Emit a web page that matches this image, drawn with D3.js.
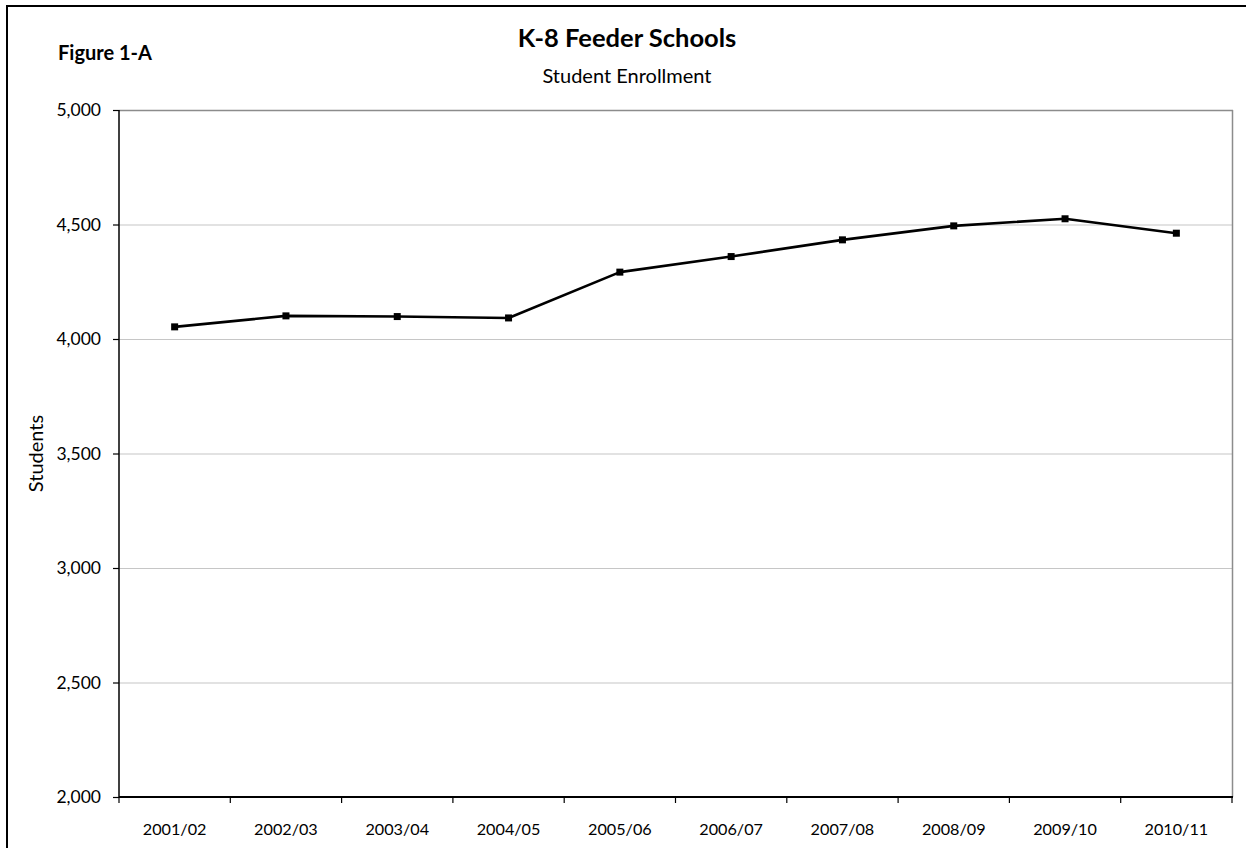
<!DOCTYPE html>
<html>
<head>
<meta charset="utf-8">
<script src="https://cdn.jsdelivr.net/npm/d3@7/dist/d3.min.js"></script>
<style>
  html, body { margin: 0; padding: 0; background: #fff; }
  svg { display: block; }
  text { font-family: Lato, "Open Sans", "Liberation Sans", sans-serif; fill: #000; }
</style>
</head>
<body>
<svg id="chart" width="1246" height="848"></svg>
<script>
// School years on the horizontal axis
const years = ["2001/02", "2002/03", "2003/04", "2004/05", "2005/06",
               "2006/07", "2007/08", "2008/09", "2009/10", "2010/11"];
// Total K-8 feeder school enrollment per year
const enrollment = [4053, 4101, 4098, 4092, 4292, 4360, 4433, 4494, 4525, 4462];
// Value axis ticks
const yTicks = [2000, 2500, 3000, 3500, 4000, 4500, 5000];

const svg = d3.select("#chart");
const plot = { left: 119, right: 1232, top: 110, bottom: 797 };
const FONT = "Lato, 'Open Sans', 'Liberation Sans', sans-serif";

// Outer chart frame
svg.append("rect")
  .attr("x", 7).attr("y", 6)
  .attr("width", 1260).attr("height", 860)
  .attr("fill", "#fff").attr("stroke", "#000").attr("stroke-width", 2);

const x = d3.scaleBand().domain(years).range([plot.left, plot.right]).padding(0);
const y = d3.scaleLinear().domain([2000, 5000]).range([plot.bottom, plot.top]);

// Horizontal gridlines
svg.append("g")
  .selectAll("line")
  .data(yTicks.filter(t => t > 2000))
  .join("line")
  .attr("x1", plot.left).attr("x2", plot.right)
  .attr("y1", d => y(d) + 0.5).attr("y2", d => y(d) + 0.5)
  .attr("stroke", "#c6c6c6").attr("stroke-width", 1.2);

// Plot area border (top and right)
svg.append("line")
  .attr("x1", plot.right + 0.5).attr("x2", plot.right + 0.5)
  .attr("y1", plot.top).attr("y2", plot.bottom)
  .attr("stroke", "#8c8c8c").attr("stroke-width", 1.5);
svg.append("line")
  .attr("x1", plot.left).attr("x2", plot.right + 1)
  .attr("y1", plot.top + 0.5).attr("y2", plot.top + 0.5)
  .attr("stroke", "#8c8c8c").attr("stroke-width", 1.5);

// Y axis
const yAxis = svg.append("g")
  .attr("transform", `translate(${plot.left},0)`)
  .call(d3.axisLeft(y).tickValues(yTicks).tickSize(6).tickPadding(12)
    .tickFormat(d3.format(",")));
yAxis.select(".domain").attr("stroke", "#000").attr("stroke-width", 1.5)
  .attr("d", `M0,${plot.top}V${plot.bottom}`);
yAxis.selectAll(".tick line").attr("stroke", "#000").attr("stroke-width", 1.2);
yAxis.selectAll("text")
  .style("font-family", FONT)
  .style("font-size", "17.5px")
  .attr("fill", "#000");

// X axis with ticks at category boundaries
const xAxis = svg.append("g")
  .attr("transform", `translate(0,${plot.bottom})`);
xAxis.append("line")
  .attr("x1", plot.left).attr("x2", plot.right + 1)
  .attr("y1", 0).attr("y2", 0)
  .attr("stroke", "#000").attr("stroke-width", 1.8);
const boundaries = years.map(d => x(d)).concat([x(years[years.length - 1]) + x.bandwidth()]);
xAxis.selectAll("line.tk")
  .data(boundaries)
  .join("line").attr("class", "tk")
  .attr("x1", d => d).attr("x2", d => d)
  .attr("y1", 0).attr("y2", 6)
  .attr("stroke", "#000").attr("stroke-width", 1.2);
xAxis.selectAll("text")
  .data(years)
  .join("text")
  .attr("x", d => x(d) + x.bandwidth() / 2)
  .attr("y", 38)
  .attr("text-anchor", "middle")
  .style("font-size", "16.2px")
  .text(d => d);

// Enrollment line
const line = d3.line()
  .x((d, i) => x(years[i]) + x.bandwidth() / 2)
  .y(d => y(d));
svg.append("path")
  .datum(enrollment)
  .attr("d", line)
  .attr("fill", "none")
  .attr("stroke", "#000")
  .attr("stroke-width", 2.6)
  .attr("stroke-linejoin", "round");

// Square markers
svg.append("g")
  .selectAll("rect")
  .data(enrollment)
  .join("rect")
  .attr("x", (d, i) => x(years[i]) + x.bandwidth() / 2 - 3.5)
  .attr("y", d => y(d) - 3.5)
  .attr("width", 7).attr("height", 7)
  .attr("fill", "#000");

// Titles
svg.append("text")
  .attr("x", 627).attr("y", 46.5)
  .attr("text-anchor", "middle")
  .style("font-size", "25.5px").attr("font-weight", "bold")
  .text("K-8 Feeder Schools");
svg.append("text")
  .attr("x", 627).attr("y", 82.5)
  .attr("text-anchor", "middle")
  .style("font-size", "20px")
  .text("Student Enrollment");
svg.append("text")
  .attr("x", 58).attr("y", 59.5)
  .style("font-size", "20px").attr("font-weight", "bold")
  .text("Figure 1-A");

// Y axis title
svg.append("text")
  .attr("transform", `translate(43,${(plot.top + plot.bottom) / 2}) rotate(-90)`)
  .attr("text-anchor", "middle")
  .style("font-size", "20px")
  .text("Students");
</script>
</body>
</html>
